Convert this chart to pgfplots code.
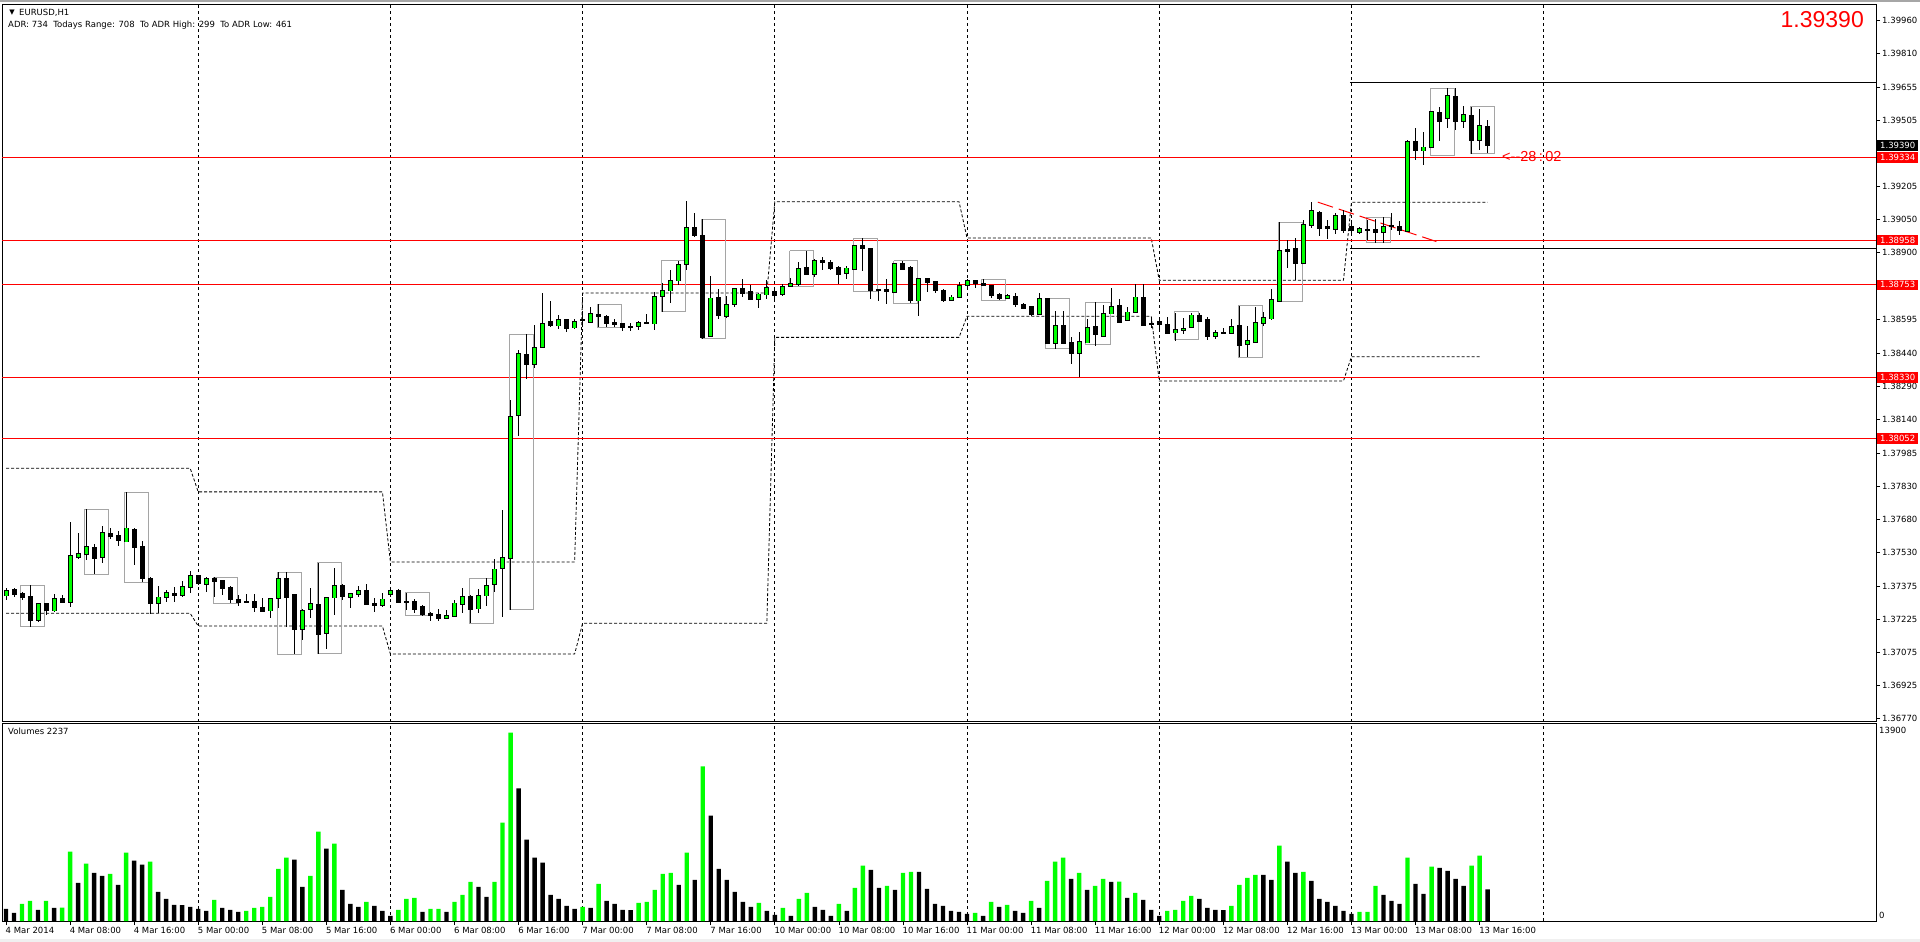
\documentclass[border=0pt]{standalone}
\usepackage{pgfplots}
\pgfplotsset{compat=1.18}
\usepackage{pgfplotstable}
\usepackage{fontspec}
\setmainfont{DejaVu Sans}
\newfontfamily\arialf{Liberation Sans}
\newcommand\mtf{\fontsize{8.5bp}{10bp}\selectfont}
\definecolor{lime}{RGB}{0,255,0}
\definecolor{boxgray}{RGB}{165,165,165}

% EURUSD H1 candles: bar index (0 = 4 Mar 00:00), open, high, low, close
\pgfplotstableread{
i o h l c
0 1.37335 1.37367 1.37313 1.37356
1 1.37359 1.37367 1.37328 1.37340
2 1.37344 1.37351 1.37316 1.37328
3 1.37331 1.37380 1.37191 1.37220
4 1.37220 1.37301 1.37214 1.37295
5 1.37295 1.37301 1.37244 1.37264
6 1.37266 1.37340 1.37259 1.37321
7 1.37322 1.37336 1.37298 1.37305
8 1.37305 1.37671 1.37282 1.37517
9 1.37511 1.37621 1.37504 1.37523
10 1.37523 1.37729 1.37499 1.37554
11 1.37554 1.37568 1.37432 1.37506
12 1.37508 1.37651 1.37485 1.37618
13 1.37618 1.37641 1.37595 1.37602
14 1.37609 1.37630 1.37561 1.37584
15 1.37581 1.37808 1.37579 1.37641
16 1.37638 1.37641 1.37473 1.37557
17 1.37560 1.37583 1.37397 1.37412
18 1.37412 1.37420 1.37252 1.37298
19 1.37298 1.37377 1.37252 1.37325
20 1.37325 1.37359 1.37305 1.37344
21 1.37344 1.37374 1.37305 1.37337
22 1.37336 1.37401 1.37328 1.37374
23 1.37372 1.37446 1.37344 1.37423
24 1.37423 1.37427 1.37382 1.37389
25 1.37386 1.37417 1.37351 1.37412
26 1.37412 1.37420 1.37328 1.37397
27 1.37400 1.37404 1.37336 1.37367
28 1.37372 1.37380 1.37298 1.37319
29 1.37316 1.37336 1.37287 1.37305
30 1.37307 1.37340 1.37298 1.37304
31 1.37307 1.37340 1.37259 1.37278
32 1.37280 1.37321 1.37259 1.37264
33 1.37266 1.37325 1.37232 1.37321
34 1.37321 1.37440 1.37275 1.37408
35 1.37412 1.37440 1.37191 1.37328
36 1.37336 1.37340 1.37065 1.37179
37 1.37179 1.37271 1.37130 1.37264
38 1.37271 1.37367 1.37232 1.37293
39 1.37293 1.37485 1.37069 1.37156
40 1.37161 1.37328 1.37092 1.37325
41 1.37325 1.37461 1.37244 1.37377
42 1.37377 1.37386 1.37313 1.37328
43 1.37328 1.37346 1.37275 1.37340
44 1.37339 1.37378 1.37328 1.37356
45 1.37354 1.37386 1.37290 1.37293
46 1.37295 1.37321 1.37259 1.37289
47 1.37289 1.37348 1.37282 1.37316
48 1.37340 1.37362 1.37328 1.37356
49 1.37356 1.37362 1.37298 1.37305
50 1.37307 1.37346 1.37267 1.37304
51 1.37307 1.37316 1.37255 1.37272
52 1.37281 1.37289 1.37243 1.37249
53 1.37252 1.37258 1.37218 1.37244
54 1.37248 1.37271 1.37218 1.37228
55 1.37229 1.37267 1.37225 1.37240
56 1.37240 1.37313 1.37237 1.37298
57 1.37295 1.37371 1.37255 1.37328
58 1.37330 1.37335 1.37207 1.37272
59 1.37275 1.37362 1.37255 1.37333
60 1.37335 1.37412 1.37286 1.37378
61 1.37386 1.37500 1.37350 1.37453
62 1.37458 1.37724 1.37237 1.37506
63 1.37506 1.38227 1.37267 1.38148
64 1.38157 1.38456 1.38063 1.38436
65 1.38436 1.38529 1.38322 1.38390
66 1.38390 1.38570 1.38376 1.38466
67 1.38468 1.38715 1.38468 1.38576
68 1.38587 1.38679 1.38562 1.38567
69 1.38567 1.38615 1.38552 1.38591
70 1.38593 1.38600 1.38539 1.38557
71 1.38559 1.38596 1.38552 1.38585
72 1.38596 1.38631 1.38562 1.38591
73 1.38585 1.38651 1.38580 1.38621
74 1.38619 1.38666 1.38562 1.38610
75 1.38610 1.38615 1.38562 1.38580
76 1.38582 1.38596 1.38562 1.38573
77 1.38576 1.38580 1.38544 1.38559
78 1.38564 1.38578 1.38544 1.38561
79 1.38564 1.38589 1.38547 1.38580
80 1.38583 1.38623 1.38574 1.38578
81 1.38578 1.38722 1.38550 1.38701
82 1.38701 1.38763 1.38631 1.38724
83 1.38728 1.38821 1.38669 1.38774
84 1.38774 1.38862 1.38753 1.38847
85 1.38847 1.39136 1.38824 1.39014
86 1.39016 1.39080 1.38973 1.38978
87 1.38980 1.39053 1.38507 1.38516
88 1.38520 1.38792 1.38516 1.38692
89 1.38696 1.38733 1.38596 1.38612
90 1.38612 1.38702 1.38605 1.38663
91 1.38664 1.38742 1.38653 1.38736
92 1.38736 1.38779 1.38699 1.38717
93 1.38724 1.38754 1.38684 1.38687
94 1.38687 1.38715 1.38649 1.38710
95 1.38710 1.38775 1.38690 1.38742
96 1.38724 1.38742 1.38681 1.38704
97 1.38710 1.38760 1.38702 1.38745
98 1.38748 1.38783 1.38742 1.38759
99 1.38759 1.38859 1.38748 1.38827
100 1.38832 1.38910 1.38797 1.38803
101 1.38803 1.38873 1.38791 1.38864
102 1.38865 1.38881 1.38820 1.38859
103 1.38856 1.38870 1.38821 1.38830
104 1.38832 1.38839 1.38756 1.38803
105 1.38806 1.38839 1.38779 1.38828
106 1.38826 1.38936 1.38821 1.38931
107 1.38931 1.38967 1.38817 1.38921
108 1.38919 1.38922 1.38689 1.38731
109 1.38734 1.38737 1.38681 1.38728
110 1.38731 1.38780 1.38666 1.38725
111 1.38722 1.38854 1.38719 1.38850
112 1.38850 1.38864 1.38821 1.38826
113 1.38832 1.38840 1.38669 1.38681
114 1.38683 1.38785 1.38610 1.38782
115 1.38782 1.38785 1.38723 1.38767
116 1.38767 1.38771 1.38719 1.38728
117 1.38728 1.38735 1.38676 1.38681
118 1.38683 1.38707 1.38679 1.38696
119 1.38696 1.38767 1.38694 1.38749
120 1.38752 1.38779 1.38746 1.38774
121 1.38774 1.38778 1.38741 1.38761
122 1.38759 1.38778 1.38746 1.38750
123 1.38750 1.38754 1.38696 1.38708
124 1.38710 1.38716 1.38683 1.38692
125 1.38692 1.38710 1.38689 1.38702
126 1.38700 1.38716 1.38651 1.38663
127 1.38661 1.38669 1.38643 1.38648
128 1.38654 1.38658 1.38613 1.38618
129 1.38619 1.38716 1.38616 1.38689
130 1.38689 1.38695 1.38483 1.38487
131 1.38487 1.38634 1.38461 1.38567
132 1.38567 1.38634 1.38483 1.38487
133 1.38489 1.38515 1.38392 1.38441
134 1.38441 1.38538 1.38334 1.38491
135 1.38491 1.38598 1.38489 1.38556
136 1.38563 1.38674 1.38477 1.38527
137 1.38520 1.38661 1.38517 1.38620
138 1.38623 1.38741 1.38620 1.38653
139 1.38657 1.38689 1.38580 1.38585
140 1.38593 1.38652 1.38588 1.38627
141 1.38631 1.38757 1.38629 1.38696
142 1.38696 1.38756 1.38565 1.38570
143 1.38578 1.38606 1.38556 1.38573
144 1.38585 1.38606 1.38552 1.38573
145 1.38573 1.38606 1.38528 1.38532
146 1.38536 1.38627 1.38499 1.38550
147 1.38550 1.38600 1.38529 1.38555
148 1.38559 1.38627 1.38556 1.38614
149 1.38614 1.38625 1.38584 1.38589
150 1.38593 1.38606 1.38501 1.38521
151 1.38518 1.38547 1.38506 1.38533
152 1.38535 1.38556 1.38529 1.38532
153 1.38535 1.38597 1.38533 1.38562
154 1.38565 1.38657 1.38422 1.38475
155 1.38482 1.38565 1.38424 1.38497
156 1.38493 1.38652 1.38490 1.38578
157 1.38578 1.38629 1.38565 1.38603
158 1.38600 1.38734 1.38593 1.38684
159 1.38681 1.39039 1.38675 1.38907
160 1.38913 1.38958 1.38830 1.38907
161 1.38917 1.38967 1.38775 1.38852
162 1.38856 1.39050 1.38853 1.39027
163 1.39027 1.39131 1.39013 1.39089
164 1.39086 1.39090 1.38977 1.39014
165 1.39018 1.39050 1.38963 1.39012
166 1.39010 1.39082 1.38986 1.39068
167 1.39071 1.39095 1.38990 1.39001
168 1.39019 1.39050 1.38977 1.39001
169 1.38996 1.39020 1.38985 1.39008
170 1.39007 1.39050 1.38958 1.39002
171 1.39007 1.39054 1.38944 1.38993
172 1.38993 1.39063 1.38944 1.39016
173 1.39024 1.39083 1.39004 1.39019
174 1.39018 1.39045 1.38981 1.39001
175 1.39001 1.39415 1.38995 1.39406
176 1.39406 1.39470 1.39324 1.39366
177 1.39368 1.39455 1.39304 1.39382
178 1.39382 1.39548 1.39379 1.39543
179 1.39539 1.39567 1.39411 1.39503
180 1.39513 1.39652 1.39470 1.39616
181 1.39612 1.39652 1.39461 1.39499
182 1.39501 1.39571 1.39470 1.39529
183 1.39529 1.39569 1.39355 1.39412
184 1.39418 1.39557 1.39370 1.39479
185 1.39479 1.39506 1.39356 1.39390
}\candles

% tick volumes, up = 1 when larger than the bar before
\pgfplotstableread{
i v up
0 850 0
1 567 0
2 1204 1
3 1418 1
4 780 0
5 1418 1
6 921 0
7 950 1
8 4890 1
9 2693 0
10 4040 1
11 3402 0
12 3190 0
13 3332 1
14 2552 0
15 4820 1
16 4253 0
17 3970 0
18 4182 1
19 2056 0
20 1560 0
21 1134 0
22 1120 0
23 992 0
24 850 0
25 709 0
26 1489 1
27 921 0
28 780 0
29 638 0
30 709 1
31 921 1
32 992 1
33 1701 1
34 3686 1
35 4466 1
36 4324 0
37 2410 0
38 3190 1
39 6309 1
40 5104 0
41 5458 1
42 2197 0
43 1205 0
44 992 0
45 1347 1
46 1063 0
47 709 0
48 354 0
49 780 1
50 1560 1
51 1630 1
52 638 0
53 850 1
54 860 1
55 638 0
56 1347 1
57 1843 1
58 2765 1
59 2410 0
60 1701 0
61 2765 1
62 6947 1
63 13300 1
64 9357 0
65 5742 0
66 4466 0
67 4111 0
68 1843 0
69 1560 0
70 1063 0
71 850 0
72 992 1
73 921 0
74 2623 1
75 1418 0
76 1205 0
77 780 0
78 770 0
79 1276 1
80 1347 1
81 2197 1
82 3332 1
83 3402 1
84 2552 0
85 4820 1
86 2906 0
87 10917 1
88 7443 0
89 3686 0
90 2906 0
91 2056 0
92 1347 0
93 992 0
94 1276 1
95 709 0
96 425 0
97 921 1
98 354 0
99 1560 1
100 1985 1
101 992 0
102 780 0
103 354 0
104 1205 1
105 709 0
106 2339 1
107 3899 1
108 3615 0
109 2339 0
110 2481 1
111 2197 0
112 3402 1
113 3474 1
114 3460 0
115 2268 0
116 1205 0
117 1063 0
118 709 0
119 638 0
120 496 0
121 567 1
122 354 0
123 1347 1
124 992 0
125 1134 1
126 709 0
127 567 0
128 1418 1
129 921 0
130 2836 1
131 4182 1
132 4466 1
133 2977 0
134 3402 1
135 2197 0
136 2481 1
137 2977 1
138 2765 0
139 2780 1
140 1630 0
141 1985 1
142 1489 0
143 780 0
144 354 0
145 709 1
146 780 1
147 1418 1
148 1772 1
149 1560 0
150 921 0
151 780 0
152 770 0
153 1063 1
154 2552 1
155 3048 1
156 3261 1
157 3250 0
158 2906 0
159 5317 1
160 4182 0
161 3402 0
162 3474 1
163 2836 0
164 1560 0
165 1347 0
166 1063 0
167 709 0
168 496 0
169 638 1
170 640 1
171 2481 1
172 1843 0
173 1418 0
174 1205 0
175 4466 1
176 2623 0
177 1914 0
178 3828 1
179 3757 0
180 3545 0
181 2977 0
182 2481 0
183 3899 1
184 4608 1
185 2237 0
}\vols

\pgfplotsset{
  daygrid/.style={
    extra x ticks={24,48,72,96,120,144,168,192},
    extra x tick labels={},
    extra x tick style={grid=major, major tick length=0pt},
    major grid style={black, line width=0.8bp, dash pattern=on 3bp off 3bp}},
  adr/.style={black, line width=0.8bp, dash pattern=on 3bp off 2bp, forget plot},
  level/.style={red, line width=1bp, forget plot},
}
\tikzset{
  pricetag/.style={font=\mtf, text=white, anchor=west, inner sep=0pt,
    minimum width=41bp, minimum height=10.5bp, xshift=1bp},
}

\begin{document}
\begin{tikzpicture}
\path[use as bounding box] (0,0) rectangle (1920bp,942bp);
\fill[white] (0,0) rectangle (1920bp,942bp);
\draw[black!35, line width=2bp] (0,941bp) -- (1920bp,941bp);
\fill[black!6] (0,0) rectangle (1920bp,3bp);

\begin{axis}[
  at={(2bp,220bp)}, anchor=south west,
  scale only axis, width=1874bp, height=717bp,
  xmin=-0.5, xmax=233.5,
  ymin=1.367555, ymax=1.400320,
  clip=false,
  axis line style={line width=1bp},
  xtick=\empty, daygrid,
  ytick={1.36770,1.36925,1.37075,1.37225,1.37375,1.37530,1.37680,1.37830,1.37985,1.38140,1.38290,1.38440,1.38595,1.38900,1.39050,1.39205,1.39505,1.39655,1.39810,1.39960},
  yticklabels={1.36770,1.36925,1.37075,1.37225,1.37375,1.37530,1.37680,1.37830,1.37985,1.38140,1.38290,1.38440,1.38595,1.38900,1.39050,1.39205,1.39505,1.39655,1.39810,1.39960},
  ytick pos=right, yticklabel pos=right,
  tick align=outside, major tick length=4bp,
  tick style={black, line width=0.8bp},
  yticklabel style={font=\mtf, anchor=west, inner sep=2bp},
  after end axis/.code={
    \node[pricetag, fill=red] at (axis cs:233.5,1.39334) {1.39334};
    \node[pricetag, fill=red] at (axis cs:233.5,1.38958) {1.38958};
    \node[pricetag, fill=red] at (axis cs:233.5,1.38753) {1.38753};
    \node[pricetag, fill=red] at (axis cs:233.5,1.38330) {1.38330};
    \node[pricetag, fill=red] at (axis cs:233.5,1.38052) {1.38052};
    \node[pricetag, fill=black] at (axis cs:233.5,1.39390) {1.39390};
  },
]
% daily range projections
\addplot[adr] coordinates {(0,1.37915) (23,1.37915) (24,1.37807) (47,1.37807) (48,1.37487) (71,1.37487) (72,1.38716) (95,1.38716) (96,1.39133) (119,1.39133) (120,1.38967) (143,1.38967) (144,1.38774) (167,1.38774) (168,1.39131) (185,1.39131)};
\addplot[adr] coordinates {(0,1.37252) (23,1.37252) (24,1.37194) (47,1.37194) (48,1.37066) (71,1.37066) (72,1.37207) (95,1.37207) (96,1.38513) (119,1.38513) (120,1.38610) (143,1.38610) (144,1.38314) (167,1.38314) (168,1.38425) (184,1.38425)};
% horizontal levels
\addplot[level] coordinates {(-0.5,1.39334) (233.5,1.39334)};
\addplot[level] coordinates {(-0.5,1.38958) (233.5,1.38958)};
\addplot[level] coordinates {(-0.5,1.38753) (233.5,1.38753)};
\addplot[level] coordinates {(-0.5,1.38330) (233.5,1.38330)};
\addplot[level] coordinates {(-0.5,1.38052) (233.5,1.38052)};
% ADR high / low of today
\addplot[black, line width=1bp, forget plot] coordinates {(167.8,1.39678) (233.5,1.39678)};
\addplot[black, line width=1bp, forget plot] coordinates {(167.8,1.38918) (233.5,1.38918)};
% session boxes
\addplot[boxgray, line width=1bp, forget plot, unbounded coords=jump] coordinates {
(1.85,1.37380) (4.85,1.37380) (4.85,1.37191) (1.85,1.37191) (1.85,1.37380) (nan,nan)
(9.85,1.37727) (12.85,1.37727) (12.85,1.37430) (9.85,1.37430) (9.85,1.37727) (nan,nan)
(14.85,1.37805) (17.85,1.37805) (17.85,1.37394) (14.85,1.37394) (14.85,1.37805) (nan,nan)
(25.85,1.37417) (28.85,1.37417) (28.85,1.37298) (25.85,1.37298) (25.85,1.37417) (nan,nan)
(33.85,1.37440) (36.85,1.37440) (36.85,1.37065) (33.85,1.37065) (33.85,1.37440) (nan,nan)
(38.85,1.37485) (41.85,1.37485) (41.85,1.37069) (38.85,1.37069) (38.85,1.37485) (nan,nan)
(49.85,1.37348) (52.85,1.37348) (52.85,1.37243) (49.85,1.37243) (49.85,1.37348) (nan,nan)
(57.85,1.37412) (60.85,1.37412) (60.85,1.37207) (57.85,1.37207) (57.85,1.37412) (nan,nan)
(62.85,1.38527) (65.85,1.38527) (65.85,1.37271) (62.85,1.37271) (62.85,1.38527) (nan,nan)
(73.85,1.38664) (76.85,1.38664) (76.85,1.38559) (73.85,1.38559) (73.85,1.38664) (nan,nan)
(81.85,1.38865) (84.85,1.38865) (84.85,1.38632) (81.85,1.38632) (81.85,1.38865) (nan,nan)
(86.85,1.39053) (89.85,1.39053) (89.85,1.38509) (86.85,1.38509) (86.85,1.39053) (nan,nan)
(97.85,1.38910) (100.85,1.38910) (100.85,1.38746) (97.85,1.38746) (97.85,1.38910) (nan,nan)
(105.85,1.38967) (108.85,1.38967) (108.85,1.38723) (105.85,1.38723) (105.85,1.38967) (nan,nan)
(110.85,1.38864) (113.85,1.38864) (113.85,1.38669) (110.85,1.38669) (110.85,1.38864) (nan,nan)
(121.85,1.38778) (124.85,1.38778) (124.85,1.38683) (121.85,1.38683) (121.85,1.38778) (nan,nan)
(129.85,1.38689) (132.85,1.38689) (132.85,1.38461) (129.85,1.38461) (129.85,1.38689) (nan,nan)
(134.85,1.38674) (137.85,1.38674) (137.85,1.38479) (134.85,1.38479) (134.85,1.38674) (nan,nan)
(145.85,1.38632) (148.85,1.38632) (148.85,1.38504) (145.85,1.38504) (145.85,1.38632) (nan,nan)
(153.85,1.38657) (156.85,1.38657) (156.85,1.38422) (153.85,1.38422) (153.85,1.38657) (nan,nan)
(158.85,1.39039) (161.85,1.39039) (161.85,1.38678) (158.85,1.38678) (158.85,1.39039) (nan,nan)
(169.85,1.39062) (172.85,1.39062) (172.85,1.38948) (169.85,1.38948) (169.85,1.39062) (nan,nan)
(177.85,1.39652) (180.85,1.39652) (180.85,1.39343) (177.85,1.39343) (177.85,1.39652) (nan,nan)
(182.85,1.39569) (185.85,1.39569) (185.85,1.39354) (182.85,1.39354) (182.85,1.39569)
};
% red dashed trend line
\addplot[red, line width=1bp, dash pattern=on 16bp off 6bp, forget plot] coordinates {(163.8,1.39131) (178.6,1.38951)};
% wicks
\addplot[draw=none, mark=none, forget plot,
  error bars/.cd, y dir=both, y explicit, error mark=none,
  error bar style={draw=black, solid, line width=1bp}]
  table[x=i, y expr={(\thisrow{h}+\thisrow{l})/2}, y error expr={(\thisrow{h}-\thisrow{l})/2}] {\candles};
% bear bodies
\addplot[draw=none, mark=none, forget plot,
  restrict expr to domain={\thisrow{c}-\thisrow{o}}{-1:0},
  error bars/.cd, y dir=both, y explicit, error mark=none,
  error bar style={draw=black, solid, line width=5bp}]
  table[x=i, y expr={(\thisrow{o}+\thisrow{c})/2}, y error expr={(\thisrow{o}-\thisrow{c})/2+0.00003}] {\candles};
% bull bodies: outline then fill
\addplot[draw=none, mark=none, forget plot,
  restrict expr to domain={\thisrow{c}-\thisrow{o}}{0:1},
  error bars/.cd, y dir=both, y explicit, error mark=none,
  error bar style={draw=black, solid, line width=5bp}]
  table[x=i, y expr={(\thisrow{o}+\thisrow{c})/2}, y error expr={(\thisrow{c}-\thisrow{o})/2+0.00004}] {\candles};
\addplot[draw=none, mark=none, forget plot,
  restrict expr to domain={\thisrow{c}-\thisrow{o}}{0:1},
  error bars/.cd, y dir=both, y explicit, error mark=none,
  error bar style={draw=lime, solid, line width=3bp}]
  table[x=i, y expr={(\thisrow{o}+\thisrow{c})/2}, y error expr={(\thisrow{c}-\thisrow{o})/2}] {\candles};
\node[red, font=\arialf\fontsize{14.5bp}{16bp}\selectfont, anchor=base west, inner sep=0pt] at (axis cs:186.8,1.39317) {<-{}-28\,:\,02};
\end{axis}

\begin{axis}[
  at={(2bp,21bp)}, anchor=south west,
  scale only axis, width=1874bp, height=197bp,
  xmin=-0.5, xmax=233.5, ymin=0, ymax=13900,
  clip=false,
  axis line style={line width=1bp},
  ytick=\empty,
  xtick={0,8,...,184},
  xticklabels={4 Mar 2014,4 Mar 08:00,4 Mar 16:00,5 Mar 00:00,5 Mar 08:00,5 Mar 16:00,6 Mar 00:00,6 Mar 08:00,6 Mar 16:00,7 Mar 00:00,7 Mar 08:00,7 Mar 16:00,10 Mar 00:00,10 Mar 08:00,10 Mar 16:00,11 Mar 00:00,11 Mar 08:00,11 Mar 16:00,12 Mar 00:00,12 Mar 08:00,12 Mar 16:00,13 Mar 00:00,13 Mar 08:00,13 Mar 16:00},
  xtick pos=bottom, tick align=outside, major tick length=4bp,
  tick style={black, line width=0.8bp},
  xticklabel style={font=\mtf, anchor=north west, inner sep=1bp, xshift=-1.5bp, yshift=-1bp},
  daygrid,
]
\addplot[ybar, bar width=4.4bp, bar shift=0pt, fill=lime, draw=none, forget plot,
  restrict expr to domain={\thisrow{up}}{0.5:1.5}] table[x=i, y=v] {\vols};
\addplot[ybar, bar width=4.4bp, bar shift=0pt, fill=black, draw=none, forget plot,
  restrict expr to domain={\thisrow{up}}{-0.5:0.5}] table[x=i, y=v] {\vols};
\end{axis}

% captions
\node[font=\fontsize{7bp}{8bp}\selectfont, inner sep=0pt] at (12bp,929bp) {▼};
\node[font=\mtf, anchor=west, inner sep=0pt] at (19bp,929bp) {EURUSD,H1};
\node[font=\mtf, anchor=west, inner sep=0pt] at (8bp,917bp) {ADR: 734\ \ Todays Range: 708\ \ To ADR High: 299\ \ To ADR Low: 461};
\node[red, font=\arialf\fontsize{23bp}{26bp}\selectfont, anchor=east, inner sep=0pt] at (1864bp,922bp) {1.39390};
\node[font=\mtf, anchor=west, inner sep=0pt] at (8bp,211bp) {Volumes 2237};
\node[font=\mtf, anchor=west, inner sep=0pt] at (1879bp,212bp) {13900};
\node[font=\mtf, anchor=west, inner sep=0pt] at (1879bp,27bp) {0};
\end{tikzpicture}
\end{document}
